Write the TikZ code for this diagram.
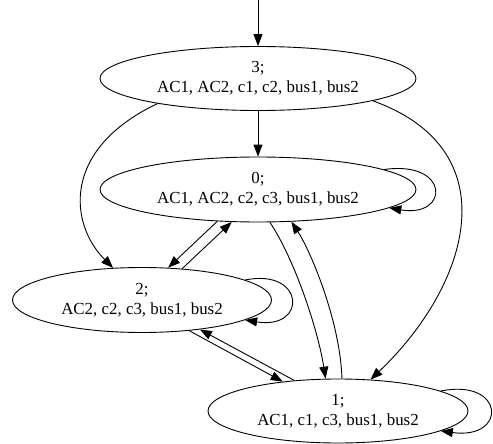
\documentclass[tikz,border=0pt]{standalone}
\usepackage{fontspec}
\setmainfont{Liberation Serif}
\usetikzlibrary{arrows.meta,shapes.geometric}
\tikzset{
  state/.style={draw, ellipse, line width=0.9pt, inner sep=0pt, align=center,
    font=\fontsize{16.9}{20}\selectfont},
  edge/.style={line width=0.9pt, -{Triangle[length=12pt,width=9pt]}}
}
\begin{document}
\begin{tikzpicture}[x=1pt,y=-1pt]
\useasboundingbox (0,0) rectangle (493,444);
\node[state, minimum width=316pt, minimum height=64pt] (n3) at (258,78.5) {3;\\AC1, AC2, c1, c2, bus1, bus2};
\node[state, minimum width=316pt, minimum height=65pt] (n0) at (258,189.5) {0;\\AC1, AC2, c2, c3, bus1, bus2};
\node[state, minimum width=259pt, minimum height=65pt] (n2) at (142,300) {2;\\AC2, c2, c3, bus1, bus2};
\node[state, minimum width=260pt, minimum height=64pt] (n1) at (338,411) {1;\\AC1, c1, c3, bus1, bus2};
\coordinate (start) at (258,0);

\draw[edge] (start) -- (n3.north);
\draw[edge] (n3.south) -- (n0.north);
\draw[edge] (n3.194) .. controls (60,150) and (70,225) .. (n2.132);
\draw[edge] (n3.349) .. controls (510,150) and (470,285) .. (n1.44);
\draw[edge] (n0.9) .. controls (450,160) and (450,218) .. (n0.-8);
\draw[edge] (n2.11.5) .. controls (305,268) and (308,330) .. (n2.-11.4);
\draw[edge] (n1.11) .. controls (505,378) and (508,440) .. (n1.-11.6);
\draw[edge] (n0.218.4) -- (n2.51);
\draw[edge] (n2.38.7) -- (n0.231);
\draw[edge] (n2.-33.7) -- (n1.152.6);
\draw[edge] (n1.145) -- (n2.-27);
\draw[edge] (n0.290) .. controls (295,260) and (318,330) .. (n1.111.5);
\draw[edge] (n1.83) .. controls (340,320) and (310,250) .. (n0.316);
\end{tikzpicture}
\end{document}
